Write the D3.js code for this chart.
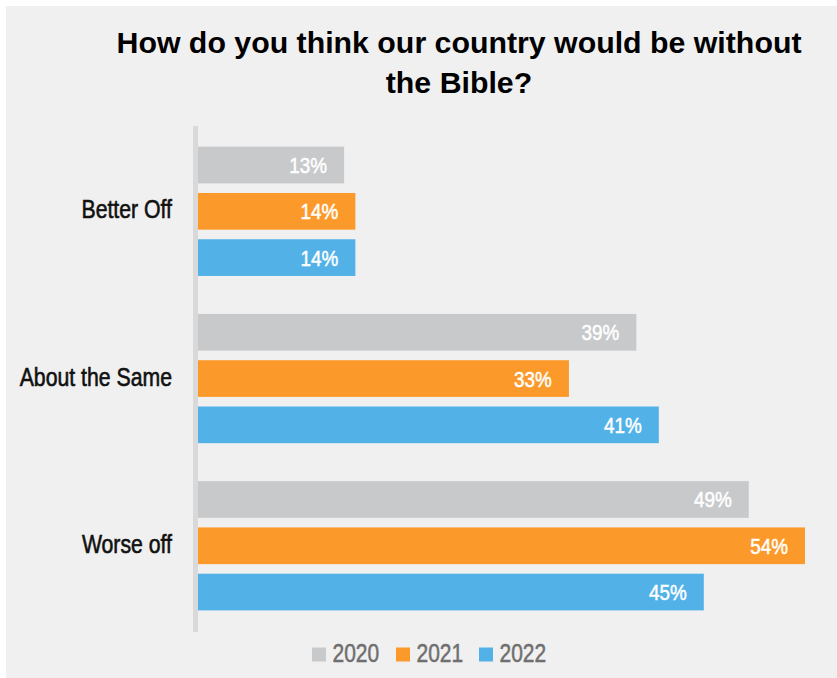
<!DOCTYPE html>
<html>
<head>
<meta charset="utf-8">
<script src="https://cdn.jsdelivr.net/npm/d3@7/dist/d3.min.js"></script>
<style>
  html, body { margin: 0; padding: 0; background: #ffffff; }
  svg { display: block; }
</style>
</head>
<body>
<svg id="chart" width="837" height="678"></svg>
<script>
// Survey answers and the share of respondents per year
const categories = ["Better Off", "About the Same", "Worse off"];
const years = ["2020", "2021", "2022"];
const values2020 = [13, 39, 49];
const values2021 = [14, 33, 54];
const values2022 = [14, 41, 45];
const yearColors = ["#c8c9cb", "#fb9a2a", "#52b2e8"];
const titleLines = ["How do you think our country would be without", "the Bible?"];

const seriesValues = [values2020, values2021, values2022];

const W = 837, H = 678;
const FONT = "'Liberation Sans', Arial, Helvetica, sans-serif";
const svg = d3.select("#chart");

// condensed text: a regular sans face squeezed horizontally around its anchor,
// with a thin outline in its own colour for a medium weight
function condensed(sel, squeeze, weight) {
  return sel
    .attr("font-family", FONT)
    .attr("stroke", function () { return this.getAttribute("fill"); })
    .attr("stroke-width", weight)
    .attr("transform", function () {
      const tx = +this.getAttribute("data-x"), ty = +this.getAttribute("data-y");
      return `translate(${tx},${ty}) scale(${squeeze},1)`;
    });
}

// panel background
svg.append("rect")
  .attr("x", 6).attr("y", 6)
  .attr("width", W - 6).attr("height", H - 6)
  .attr("fill", "#f0f0f0");

// title
const title = svg.append("text")
  .attr("text-anchor", "middle")
  .attr("font-family", FONT)
  .attr("font-weight", "bold")
  .attr("font-size", 30.3)
  .attr("fill", "#000");
titleLines.forEach((t, i) => {
  title.append("tspan").attr("x", 459).attr("y", 53 + i * 40).text(t);
});

// scales
const x0 = 198;
const x = d3.scaleLinear().domain([0, 56]).range([x0, x0 + 56 * 11.24]);
const yGroup = d3.scaleBand()
  .domain(categories)
  .range([146.7, 610.4])
  .paddingInner(0.227)
  .paddingOuter(0);
const ySeries = d3.scaleBand()
  .domain(years)
  .range([0, yGroup.bandwidth()])
  .paddingInner(0.207)
  .paddingOuter(0);

// vertical axis line
svg.append("line")
  .attr("x1", 195.5).attr("x2", 195.5)
  .attr("y1", 126).attr("y2", 632)
  .attr("stroke", "#d9d9d9")
  .attr("stroke-width", 5);

// category labels
svg.append("g")
  .selectAll("text")
  .data(categories)
  .join("text")
  .attr("data-x", 172)
  .attr("data-y", d => yGroup(d) + yGroup.bandwidth() / 2 + 7)
  .attr("text-anchor", "end")
  .attr("font-size", 25)
  .attr("fill", "#111111")
  .text(d => d)
  .call(condensed, 0.85, 0.6);

// bars grouped by category
const rows = [];
categories.forEach((c, ci) => {
  years.forEach((yr, si) => {
    rows.push({ cat: c, year: yr, si, value: seriesValues[si][ci] });
  });
});

const bars = svg.append("g");
bars.selectAll("rect")
  .data(rows)
  .join("rect")
  .attr("x", x(0))
  .attr("y", d => yGroup(d.cat) + ySeries(d.year))
  .attr("width", d => x(d.value) - x(0))
  .attr("height", ySeries.bandwidth())
  .attr("fill", d => yearColors[d.si]);

// value labels inside bars
bars.selectAll("text")
  .data(rows)
  .join("text")
  .attr("data-x", d => x(d.value) - 17)
  .attr("data-y", d => yGroup(d.cat) + ySeries(d.year) + ySeries.bandwidth() / 2 + 8)
  .attr("text-anchor", "end")
  .attr("font-size", 22.5)
  .attr("fill", "#ffffff")
  .text(d => d.value + "%")
  .call(condensed, 0.84, 0.5);

// legend
const legendX = [312, 396, 479];
const legend = svg.append("g");
legend.selectAll("rect")
  .data(years)
  .join("rect")
  .attr("x", (d, i) => legendX[i]).attr("y", 647.5)
  .attr("width", 14).attr("height", 14)
  .attr("fill", (d, i) => yearColors[i]);
legend.selectAll("text")
  .data(years)
  .join("text")
  .attr("data-x", (d, i) => legendX[i] + 20.5)
  .attr("data-y", 662.3)
  .attr("font-size", 25)
  .attr("fill", "#6f6f6f")
  .text(d => d)
  .call(condensed, 0.84, 0.5);
</script>
</body>
</html>
